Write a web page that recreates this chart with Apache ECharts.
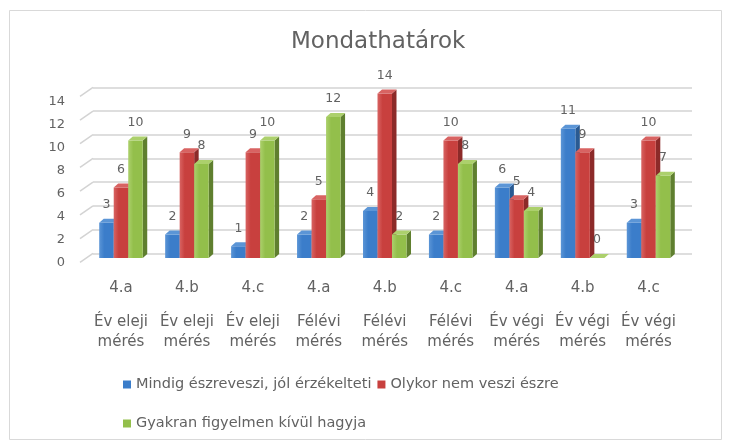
<!DOCTYPE html>
<html>
<head>
<meta charset="utf-8">
<title>Mondathatárok</title>
<script src="https://cdn.jsdelivr.net/npm/echarts@6/dist/echarts.min.js"></script>
<style>
  html, body { margin: 0; padding: 0; background: #fff; }
  #chart { width: 729px; height: 445px; }
</style>
</head>
<body>
<div id="chart"></div>
<script>
// categories: class + measurement phase
const classes = ['4.a', '4.b', '4.c', '4.a', '4.b', '4.c', '4.a', '4.b', '4.c'];
const phases = ['Év eleji\nmérés', 'Év eleji\nmérés', 'Év eleji\nmérés',
                'Félévi\nmérés', 'Félévi\nmérés', 'Félévi\nmérés',
                'Év végi\nmérés', 'Év végi\nmérés', 'Év végi\nmérés'];

const seriesNames = ['Mindig észreveszi, jól érzékelteti', 'Olykor nem veszi észre', 'Gyakran figyelmen kívül hagyja'];
const mindig = [3, 2, 1, 2, 4, 2, 6, 11, 3];
const olykor = [6, 9, 9, 5, 14, 10, 5, 9, 10];
const gyakran = [10, 8, 10, 12, 2, 8, 4, 0, 7];

const yTicks = [0, 2, 4, 6, 8, 10, 12, 14];

const FONT = '"DejaVu Sans", sans-serif';
const TEXT = '#626262';

const palette = [
  { front: '#3b7dca', side: '#2a5a92', top: '#5b95d6' },
  { front: '#c8403e', side: '#8c2a29', top: '#d86362' },
  { front: '#93bf4b', side: '#5f7f2f', top: '#acd06c' }
];

// fake 3D column: front face, right side, top
function barRender(k) {
  const c = palette[k];
  return function (params, api) {
    const idx = api.value(0), v = api.value(1);
    const top = api.coord([idx, v]);
    const base = api.coord([idx, 0]);
    const w = api.size([1, 0])[0] * 0.22;
    const x0 = top[0] + (k - 1.5) * w;
    const dx = 4.5, dy = -4;
    return {
      type: 'group',
      children: [
        { type: 'polygon', shape: { points: [[x0 + w, top[1]], [x0 + w + dx, top[1] + dy], [x0 + w + dx, base[1] + dy], [x0 + w, base[1]]] }, style: { fill: c.side } },
        { type: 'rect', shape: { x: x0, y: top[1], width: w, height: base[1] - top[1] },
          style: { fill: new echarts.graphic.LinearGradient(0, 0, 1, 0, [{ offset: 0, color: c.top }, { offset: 0.35, color: c.front }, { offset: 1, color: c.front }]) } },
        { type: 'polygon', shape: { points: [[x0, top[1]], [x0 + dx, top[1] + dy], [x0 + w + dx, top[1] + dy], [x0 + w, top[1]]] }, style: { fill: c.top } },
        { type: 'text', z2: 50, x: x0 + w / 2, y: top[1] - 18,
          style: { text: String(v), fill: TEXT, font: '12.5px ' + FONT, align: 'center', verticalAlign: 'middle' } }
      ]
    };
  };
}

// slanted start of the back wall gridlines
function wallRender(params, api) {
  const p = api.coord([0, api.value(0)]);
  return {
    type: 'line',
    shape: { x1: p[0] - 13, y1: p[1] + 9, x2: p[0], y2: p[1] },
    style: { stroke: '#d3d3d3', lineWidth: 1.5 }
  };
}

const chart = echarts.init(document.getElementById('chart'));

const legendText = { color: TEXT, fontSize: 14.5, fontFamily: FONT };

const option = {
  backgroundColor: '#fff',
  animation: false,
  title: {
    text: 'Mondathatárok',
    left: 286,
    top: 26,
    textStyle: { color: TEXT, fontSize: 23, fontWeight: 'normal', fontFamily: FONT }
  },
  graphic: [{
    type: 'rect', left: 7, top: 8,
    shape: { width: 712, height: 429 },
    style: { fill: 'none', stroke: '#d9d9d9', lineWidth: 1 }
  }],
  legend: [
    { data: seriesNames.slice(0, 2), left: 118, top: 372, icon: 'rect', itemWidth: 8, itemHeight: 8, itemGap: 6, textStyle: legendText },
    { data: seriesNames.slice(2), left: 118, top: 411, icon: 'rect', itemWidth: 8, itemHeight: 8, itemGap: 6, textStyle: legendText }
  ],
  grid: [
    { left: 88, right: 47.5, top: 93.5, bottom: 187 },   // bars
    { left: 93, right: 37, top: 87.3, bottom: 191.7 },   // back wall
    { left: 80, right: 37, top: 101.7, bottom: 182.3 }   // value labels
  ],
  xAxis: [
    {
      gridIndex: 0, type: 'category',
      data: classes.map((c, i) => c + ' ' + phases[i]),
      axisLine: { show: false }, axisTick: { show: false },
      axisLabel: {
        interval: 0, margin: 7,
        formatter: (val, i) => '{a|' + classes[i] + '}\n' + phases[i].split('\n').map(s => '{b|' + s + '}').join('\n'),
        rich: {
          a: { fontSize: 15, lineHeight: 47, color: TEXT, fontFamily: FONT },
          b: { fontSize: 15, lineHeight: 20, color: TEXT, fontFamily: FONT }
        }
      }
    },
    { gridIndex: 1, type: 'value', min: 0, max: 1, show: false },
    { gridIndex: 2, type: 'value', min: 0, max: 1, show: false }
  ],
  yAxis: [
    { gridIndex: 0, type: 'value', min: 0, max: 14, interval: 2, show: false },
    {
      gridIndex: 1, type: 'value', min: 0, max: 14, interval: 2,
      axisLabel: { show: false }, axisLine: { show: false }, axisTick: { show: false },
      splitLine: { lineStyle: { color: '#d3d3d3', width: 1.5 } }
    },
    {
      gridIndex: 2, type: 'value', min: 0, max: 14, interval: 2,
      axisLine: { show: false }, axisTick: { show: false }, splitLine: { show: false },
      axisLabel: { margin: 15, color: TEXT, fontSize: 13, fontFamily: FONT }
    }
  ],
  series: [
    {
      type: 'custom', xAxisIndex: 1, yAxisIndex: 1, silent: true,
      renderItem: wallRender, data: yTicks.map(v => [v])
    },
    {
      name: seriesNames[0], type: 'custom', xAxisIndex: 0, yAxisIndex: 0,
      itemStyle: { color: palette[0].front }, renderItem: barRender(0),
      data: mindig.map((v, i) => [i, v])
    },
    {
      name: seriesNames[1], type: 'custom', xAxisIndex: 0, yAxisIndex: 0,
      itemStyle: { color: palette[1].front }, renderItem: barRender(1),
      data: olykor.map((v, i) => [i, v])
    },
    {
      name: seriesNames[2], type: 'custom', xAxisIndex: 0, yAxisIndex: 0,
      itemStyle: { color: palette[2].front }, renderItem: barRender(2),
      data: gyakran.map((v, i) => [i, v])
    }
  ]
};

chart.setOption(option);
</script>
</body>
</html>
